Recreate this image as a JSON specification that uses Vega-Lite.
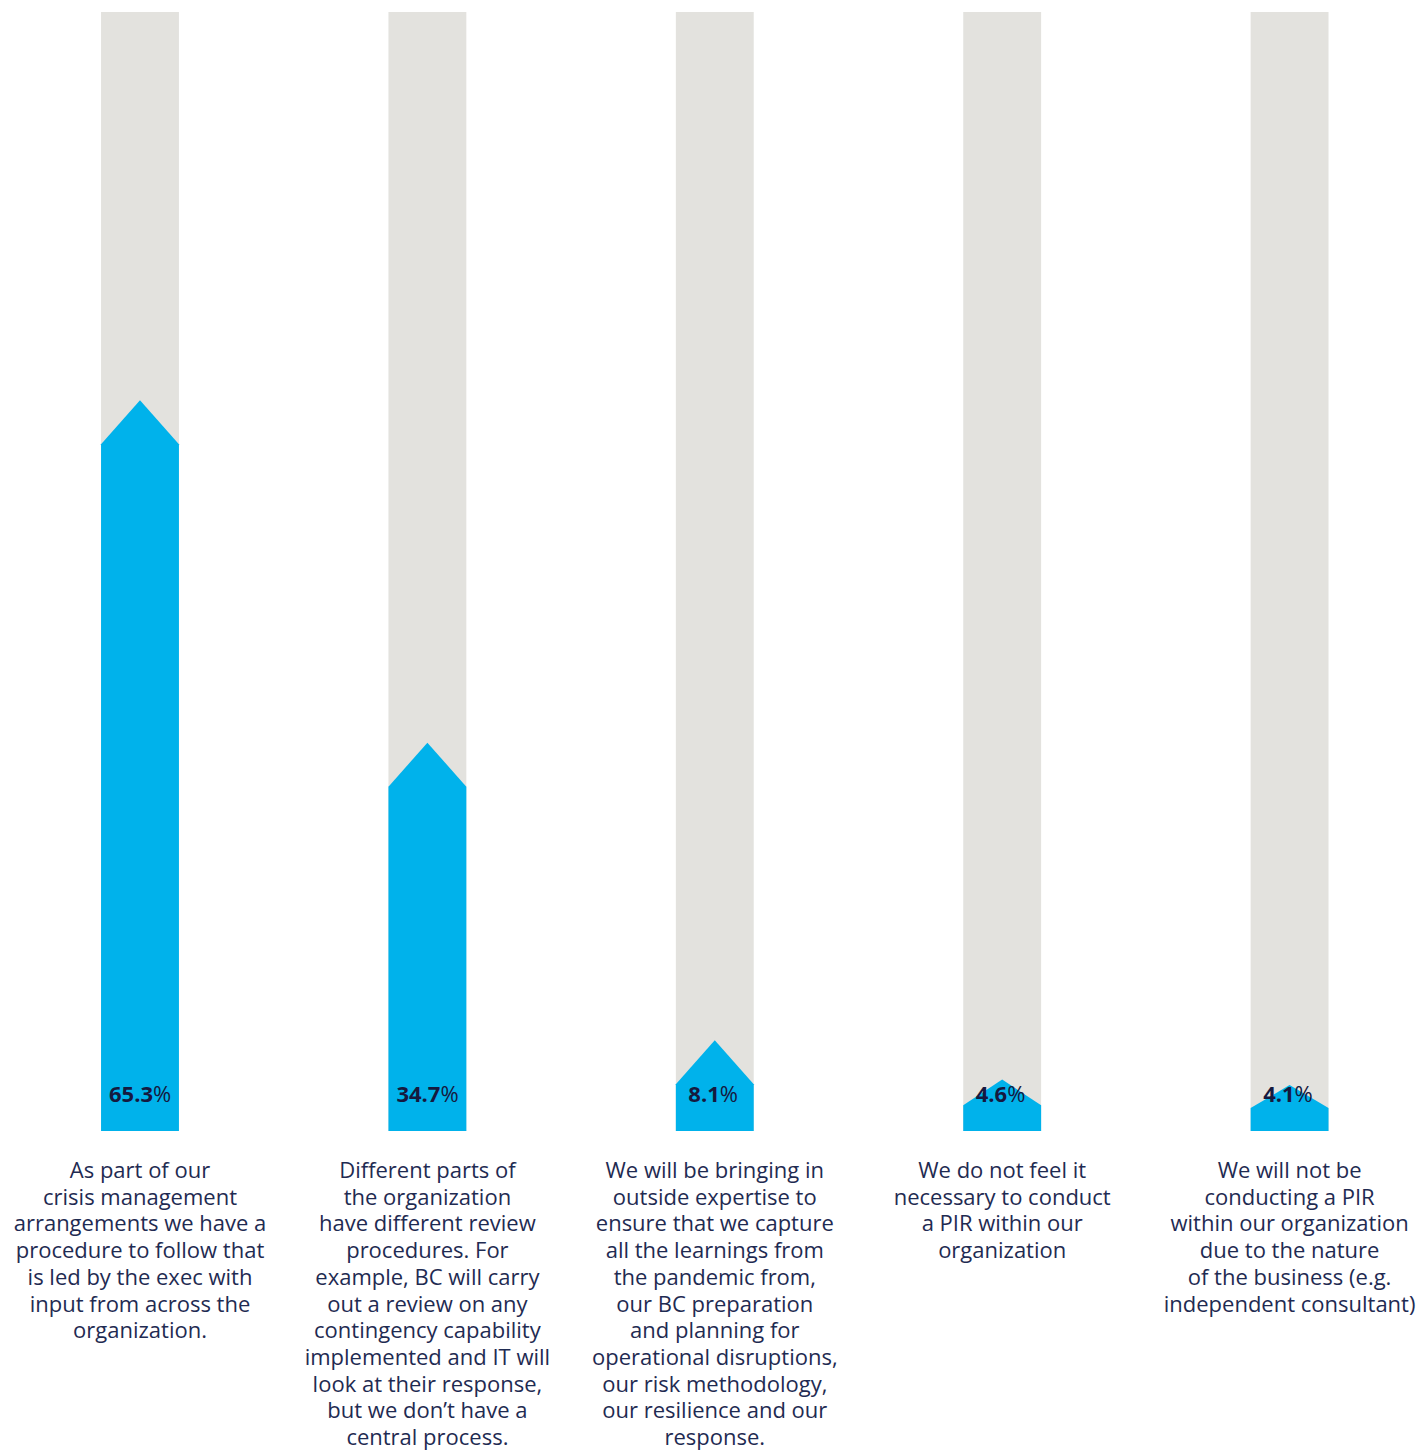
{
  "$schema": "https://vega.github.io/schema/vega-lite/v6.json",
  "width": 1416,
  "height": 1119,
  "autosize": {"type": "none"},
  "padding": {"left": 0, "right": 0, "top": 12, "bottom": 319},
  "background": "white",
  "config": {"view": {"stroke": null}},
  "data": {
    "values": [
      {"id": "c1", "value": 65.3, "label": "As part of our\ncrisis management\narrangements we have a\nprocedure to follow that\nis led by the exec with\ninput from across the\norganization."},
      {"id": "c2", "value": 34.7, "label": "Different parts of\nthe organization\nhave different review\nprocedures. For\nexample, BC will carry\nout a review on any\ncontingency capability\nimplemented and IT will\nlook at their response,\nbut we don’t have a\ncentral process."},
      {"id": "c3", "value": 8.1, "label": "We will be bringing in\noutside expertise to\nensure that we capture\nall the learnings from\nthe pandemic from,\nour BC preparation\nand planning for\noperational disruptions,\nour risk methodology,\nour resilience and our\nresponse."},
      {"id": "c4", "value": 4.6, "label": "We do not feel it\nnecessary to conduct\na PIR within our\norganization"},
      {"id": "c5", "value": 4.1, "label": "We will not be\nconducting a PIR\nwithin our organization\ndue to the nature\nof the business (e.g.\nindependent consultant)"}
    ]
  },
  "encoding": {
    "x": {
      "field": "id",
      "type": "nominal",
      "sort": null,
      "scale": {"paddingInner": 0.729, "paddingOuter": 0.328, "align": 0.536},
      "axis": null
    }
  },
  "layer": [
    {
      "mark": {"type": "bar", "color": "#e3e2de"},
      "encoding": {
        "y": {"datum": 100, "type": "quantitative", "scale": {"domain": [0, 100]}, "axis": null}
      }
    },
    {
      "mark": {
        "type": "point",
        "filled": true,
        "opacity": 1,
        "color": "#00b2eb",
        "strokeWidth": 0,
        "size": 6068,
        "shape": {"expr": "'M-1,' + min(1.1297, datum.value*0.14364) + 'L0,0L1,' + min(1.1297, datum.value*0.14364) + 'L1,' + (datum.value*0.28729) + 'L-1,' + (datum.value*0.28729) + 'Z'"}
      },
      "encoding": {
        "y": {"field": "value", "type": "quantitative"}
      }
    },
    {
      "mark": {
        "type": "text",
        "font": "Open Sans",
        "fontWeight": "bold",
        "fontSize": 22,
        "align": "right",
        "baseline": "alphabetic",
        "dy": -29,
        "dx": {"expr": "datum.value >= 10 ? 13 : 5"},
        "color": "#15193f"
      },
      "encoding": {
        "y": {"datum": 0, "type": "quantitative"},
        "text": {"field": "value", "type": "quantitative", "format": ".1f"}
      }
    },
    {
      "mark": {
        "type": "text",
        "font": "Open Sans",
        "fontWeight": "normal",
        "fontSize": 22,
        "align": "left",
        "baseline": "alphabetic",
        "dy": -29,
        "dx": {"expr": "datum.value >= 10 ? 13 : 5"},
        "color": "#15193f"
      },
      "encoding": {
        "y": {"datum": 0, "type": "quantitative"},
        "text": {"value": "%"}
      }
    },
    {
      "mark": {
        "type": "text",
        "font": "Open Sans",
        "fontSize": 22,
        "lineBreak": "\n",
        "lineHeight": 26.7,
        "align": "center",
        "baseline": "alphabetic",
        "dy": 47,
        "color": "#1f2b52"
      },
      "encoding": {
        "y": {"datum": 0, "type": "quantitative"},
        "text": {"field": "label", "type": "nominal"}
      }
    }
  ]
}
